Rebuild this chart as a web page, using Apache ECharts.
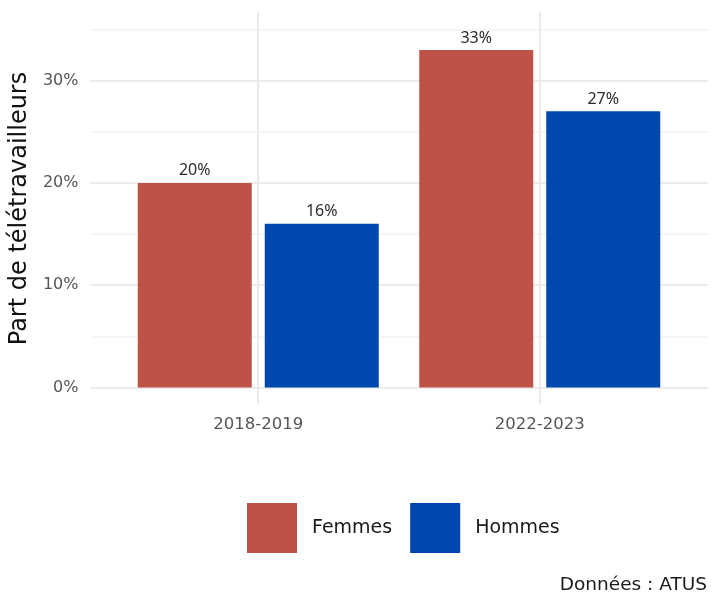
<!DOCTYPE html>
<html>
<head>
<meta charset="utf-8">
<script src="https://cdn.jsdelivr.net/npm/echarts@6/dist/echarts.min.js"></script>
<style>
  html, body { margin: 0; padding: 0; background: #fff; }
  #main { width: 720px; height: 611px; }
</style>
</head>
<body>
<div id="main"></div>
<script>
const categories = ['2018-2019', '2022-2023'];
const femmes = [20, 33];
const hommes = [16, 27];
const seriesNames = ['Femmes', 'Hommes'];
const colors = ['#bf5247', '#0148ae'];

const axisFont = '"DejaVu Sans", sans-serif';
const chart = echarts.init(document.getElementById('main'));

const barLabel = {
  show: true,
  position: 'top',
  distance: 4,
  formatter: '{c}%',
  fontFamily: '"Noto Sans", sans-serif',
  fontSize: 16,
  color: '#2b2b2b'
};

const option = {
  animation: false,
  backgroundColor: '#fff',
  color: colors,
  grid: [
    // horizontal grid + y labels
    { left: 89, right: 12, top: 29.5, bottom: 223.5 },
    // bars
    { left: 117.5, right: 39.5, top: 29.5, bottom: 223.5 },
    // vertical grid lines at category centres
    { left: 258, right: 180.5, top: 12, bottom: 207 }
  ],
  xAxis: [
    { gridIndex: 0, type: 'value', show: false, min: 0, max: 1 },
    {
      gridIndex: 1, type: 'category', data: categories,
      axisLine: { show: false }, axisTick: { show: false },
      splitLine: { show: false },
      axisLabel: { margin: 29, fontFamily: axisFont, fontSize: 16.5, color: '#555' }
    },
    {
      gridIndex: 2, type: 'value', min: 0, max: 1, interval: 1,
      axisLine: { show: false }, axisTick: { show: false }, axisLabel: { show: false },
      splitLine: { show: true, lineStyle: { color: '#ebebeb', width: 2 } }
    }
  ],
  yAxis: [
    {
      gridIndex: 0, type: 'value', min: 0, max: 35, interval: 5,
      name: 'Part de télétravailleurs',
      nameLocation: 'middle', nameGap: 52, nameRotate: 90,
      nameTextStyle: { fontFamily: axisFont, fontSize: 24, color: '#111' },
      axisLine: { show: false }, axisTick: { show: false },
      axisLabel: {
        margin: 12, fontFamily: axisFont, fontSize: 16, color: '#555',
        formatter: v => (v % 10 === 0 ? v + '%' : '')
      },
      splitLine: { show: true, lineStyle: { color: ['#e6e6e6', '#f2f2f2'], width: 1.5 } }
    },
    { gridIndex: 1, type: 'value', min: 0, max: 35, show: false },
    { gridIndex: 2, type: 'value', min: 0, max: 1, show: false }
  ],
  legend: {
    data: seriesNames,
    icon: 'rect',
    left: 242,
    top: 498,
    itemWidth: 50,
    itemHeight: 50,
    itemGap: 18,
    textStyle: { fontFamily: axisFont, fontSize: 19, color: '#1a1a1a', padding: [0, 0, 0, 10] }
  },
  graphic: [
    {
      type: 'text', right: 13, top: 576,
      style: { text: 'Données : ATUS', fontFamily: axisFont, fontSize: 18.5, fill: '#1a1a1a' }
    }
  ],
  series: [
    {
      name: seriesNames[0], type: 'bar', xAxisIndex: 1, yAxisIndex: 1,
      data: femmes, barWidth: 114, barGap: '11.4%', label: barLabel
    },
    {
      name: seriesNames[1], type: 'bar', xAxisIndex: 1, yAxisIndex: 1,
      data: hommes, barWidth: 114, barGap: '11.4%', label: barLabel
    }
  ]
};

chart.setOption(option);
</script>
</body>
</html>
